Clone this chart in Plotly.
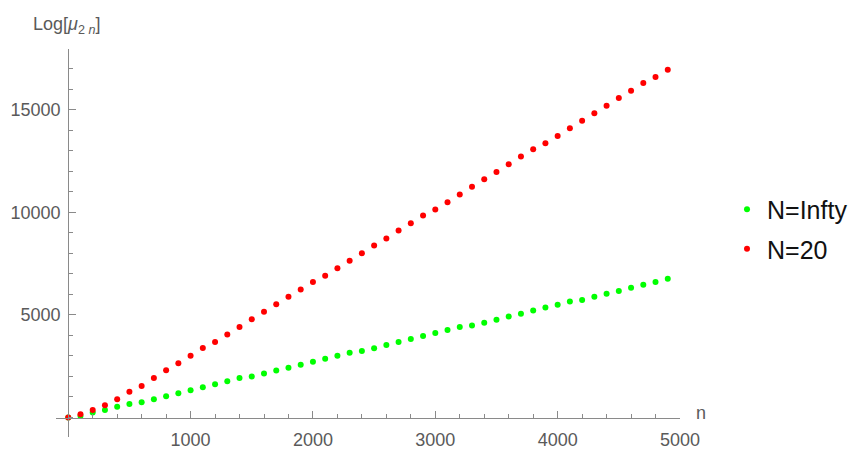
import plotly.graph_objects as go

n_values = list(range(0, 5000, 100))

log_mu_infty = [0, 75, 240, 370, 530, 660, 745, 890, 1040, 1180,
                1330, 1480, 1620, 1770, 1920, 2000, 2150, 2290, 2420, 2570,
                2720, 2860, 3010, 3160, 3240, 3370, 3530, 3680, 3830, 3970,
                4120, 4270, 4410, 4490, 4620, 4770, 4920, 5060, 5210, 5360,
                5500, 5650, 5730, 5880, 6030, 6170, 6320, 6470, 6610, 6760]

log_mu_20 = [0, 160, 370, 600, 890, 1250, 1540, 1920, 2300, 2650,
             3010, 3390, 3680, 4040, 4410, 4790, 5150, 5520, 5880, 6240,
             6600, 6910, 7270, 7640, 8000, 8380, 8730, 9110, 9470, 9840,
             10140, 10490, 10870, 11250, 11610, 11970, 12340, 12720, 13070, 13370,
             13720, 14100, 14460, 14830, 15190, 15570, 15930, 16300, 16600, 16950]

series_names = ["N=Infty", "N=20"]
series_colors = ["#00ff00", "#ff0000"]

x_ticks = [1000, 2000, 3000, 4000, 5000]
x_tick_labels = ["1000", "2000", "3000", "4000", "5000"]
y_ticks = [5000, 10000, 15000]
y_tick_labels = ["5000", "10000", "15000"]

FONT = "Liberation Sans, Arial, sans-serif"
AXIS_COLOR = "#8a8a8a"
TICK_FONT_COLOR = "#5a5a5a"

fig = go.Figure()
for name, vals, col in zip(series_names, [log_mu_infty, log_mu_20], series_colors):
    fig.add_trace(go.Scatter(
        x=n_values, y=vals, mode="markers", name=name,
        legendgroup=name,
        marker=dict(color=col, size=6, line=dict(width=0)),
        cliponaxis=False,
    ))

OFF = 8  # page body margin
W, H = 860 - OFF, 451 - OFF
ml, mr, mt, mb = 56 - OFF, 180, 49 - OFF, 14
pw = W - ml - mr
ph = H - mt - mb
x_rng = [-100, 5000]
y_rng = [-950, 17960]
x0_frac = (0 - x_rng[0]) / (x_rng[1] - x_rng[0])
y0_frac = (0 - y_rng[0]) / (y_rng[1] - y_rng[0])


def px_x(p):
    return (p - OFF - ml) / pw


def px_y(p):
    return (H - mb - (p - OFF)) / ph


fig.update_layout(
    width=W, height=H,
    margin=dict(l=ml, r=mr, t=mt, b=mb, autoexpand=False),
    paper_bgcolor="white", plot_bgcolor="white",
    font=dict(family=FONT, size=18, color=TICK_FONT_COLOR),
    showlegend=True,
    legend=dict(
        x=px_x(727), y=px_y(229), xanchor="left", yanchor="middle",
        font=dict(family=FONT, size=25, color="#111111"),
        tracegroupgap=4,
        bgcolor="rgba(0,0,0,0)",
    ),
    xaxis=dict(
        range=x_rng, anchor="free", position=y0_frac, automargin=False,
        showgrid=False, zeroline=False,
        showline=True, linecolor=AXIS_COLOR, linewidth=1,
        tickmode="array", tickvals=x_ticks, ticktext=x_tick_labels,
        ticks="inside", ticklen=7, tickwidth=1, tickcolor=AXIS_COLOR,
        tickfont=dict(family=FONT, size=18, color=TICK_FONT_COLOR),
        ticklabelstandoff=6,
        minor=dict(tickmode="linear", tick0=0, dtick=200, ticks="inside",
                   ticklen=4, tickwidth=1, tickcolor=AXIS_COLOR, showgrid=False),
    ),
    yaxis=dict(
        range=y_rng, anchor="free", position=x0_frac, automargin=False,
        showgrid=False, zeroline=False,
        showline=True, linecolor=AXIS_COLOR, linewidth=1,
        tickmode="array", tickvals=y_ticks, ticktext=y_tick_labels,
        ticks="inside", ticklen=7, tickwidth=1, tickcolor=AXIS_COLOR,
        tickfont=dict(family=FONT, size=18, color=TICK_FONT_COLOR),
        ticklabelstandoff=4,
        minor=dict(tickmode="linear", tick0=0, dtick=1000, ticks="inside",
                   ticklen=4, tickwidth=1, tickcolor=AXIS_COLOR, showgrid=False),
    ),
    annotations=[
        dict(text="Log[<i>μ</i><sub>2 <i>n</i></sub>]", xref="paper", yref="paper",
             x=px_x(66), y=px_y(26), xanchor="center", yanchor="middle",
             showarrow=False, font=dict(family=FONT, size=18, color=TICK_FONT_COLOR)),
        dict(text="n", xref="paper", yref="paper",
             x=px_x(701), y=px_y(413), xanchor="center", yanchor="middle",
             showarrow=False, font=dict(family=FONT, size=18, color=TICK_FONT_COLOR)),
    ],
)

fig.write_html("out.html")
